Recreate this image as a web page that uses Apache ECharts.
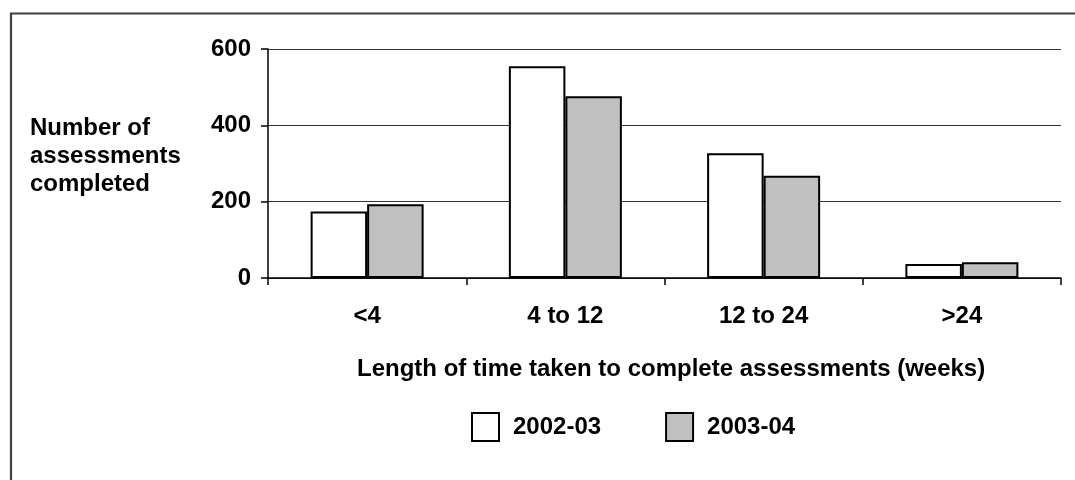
<!DOCTYPE html>
<html>
<head>
<meta charset="utf-8">
<title>Assessments completed</title>
<script src="https://cdn.jsdelivr.net/npm/echarts@6/dist/echarts.min.js"></script>
<style>
    html, body { margin: 0; padding: 0; background: #fff; }
    #chart { width: 1075px; height: 480px; }
</style>
</head>
<body>
<div id="chart"></div>
<script>
    //分类和数据
    var categories = ['<4', '4 to 12', '12 to 24', '>24'];
    var values2002 = [174, 555, 327, 37];
    var values2003 = [193, 476, 268, 41];
    var yTicks = [0, 200, 400, 600];

    var FONT = '"Liberation Sans", Arial, sans-serif';
    var textBold = { fontFamily: FONT, fontWeight: 'bold', fontSize: 24, color: '#000' };

    var myChart = echarts.init(document.getElementById('chart'), null, { renderer: 'canvas' });

    var option = {
        backgroundColor: '#fff',
        animation: false,
        title: [{
            //y轴标题
            text: 'Number of\nassessments\ncompleted',
            left: 30,
            top: 114,
            padding: 0,
            textStyle: Object.assign({}, textBold, { lineHeight: 28 })
        }, {
            //x轴标题
            text: 'Length of time taken to complete assessments (weeks)',
            left: 357,
            top: 357,
            padding: 0,
            textStyle: textBold
        }],
        legend: {
            left: 471,
            top: 412,
            padding: 0,
            icon: 'rect',
            itemWidth: 27,
            itemHeight: 28,
            itemGap: 64,
            textStyle: Object.assign({}, textBold, { padding: [0, 0, 0, 9] }),
            data: ['2002-03', '2003-04']
        },
        grid: {
            left: 268,
            right: 14,
            top: 49,
            bottom: 202,
            containLabel: false
        },
        xAxis: {
            type: 'category',
            data: categories,
            axisLine: { lineStyle: { color: '#000', width: 1.5 } },
            axisTick: { show: true, length: 7, lineStyle: { color: '#000', width: 1.5 } },
            axisLabel: Object.assign({ margin: 26, interval: 0 }, textBold),
            splitLine: { show: false }
        },
        yAxis: {
            type: 'value',
            min: yTicks[0],
            max: yTicks[yTicks.length - 1],
            interval: yTicks[1] - yTicks[0],
            axisLine: { show: true, lineStyle: { color: '#000', width: 1.5 } },
            axisTick: { show: true, length: 7, lineStyle: { color: '#000', width: 1.5 } },
            axisLabel: Object.assign({ margin: 17 }, textBold),
            splitLine: { show: true, lineStyle: { color: '#333', width: 1.2 } }
        },
        series: [{
            name: '2002-03',
            type: 'bar',
            data: values2002,
            barGap: 0,
            barCategoryGap: '43%',
            itemStyle: { color: '#ffffff', borderColor: '#000', borderWidth: 2 }
        }, {
            name: '2003-04',
            type: 'bar',
            data: values2003,
            barGap: 0,
            barCategoryGap: '43%',
            itemStyle: { color: '#c0c0c0', borderColor: '#000', borderWidth: 2 }
        }],
        graphic: [{
            //外框（右侧和底部在画面外）
            type: 'rect',
            silent: true,
            shape: { x: 11, y: 13.5, width: 1200, height: 600 },
            style: { fill: 'none', stroke: '#404040', lineWidth: 2.2 }
        }]
    };

    myChart.setOption(option);
</script>
</body>
</html>
